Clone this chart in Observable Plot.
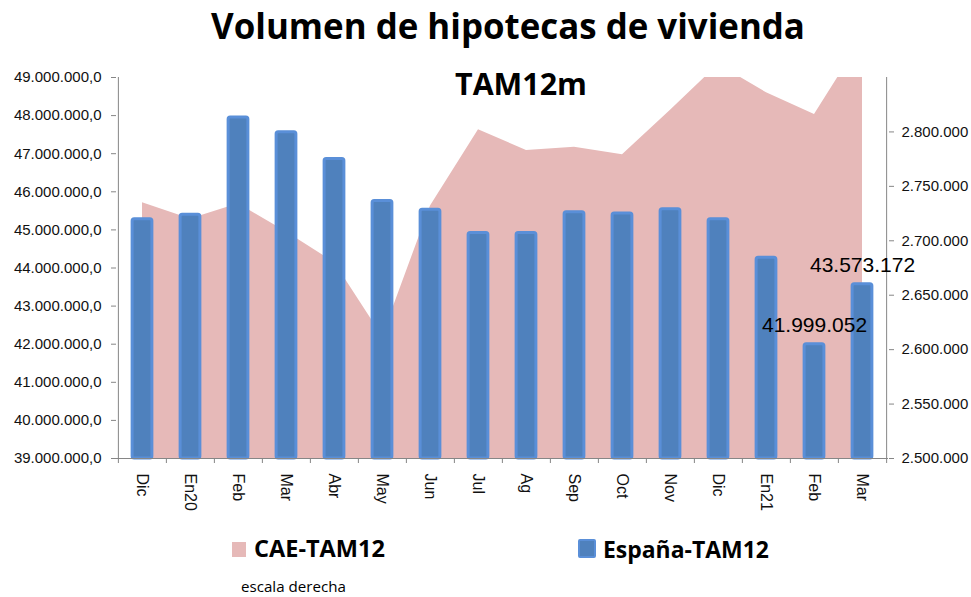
<!DOCTYPE html>
<html><head><meta charset="utf-8">
<script src="https://cdn.jsdelivr.net/npm/d3@7"></script>
<script src="https://cdn.jsdelivr.net/npm/@observablehq/plot@0.6"></script>
<style>
body{margin:0;background:#fff}
#wrap{position:relative;width:971px;height:597px;overflow:hidden;background:#fff}
#chart{position:absolute;left:0;top:0}
.sq{position:absolute;box-sizing:border-box}
</style></head><body>
<div id="wrap"><div id="chart"></div></div>
<script>
// ---- data ----
const keys = ["Dic19","En20","Feb20","Mar20","Abr20","May20","Jun20","Jul20","Ag20","Sep20","Oct20","Nov20","Dic20","En21","Feb21","Mar21"];
const tickLabels = ["Dic","En20","Feb","Mar","Abr","May","Jun","Jul","Ag","Sep","Oct","Nov","Dic","En21","Feb","Mar"];
const espana = [45280000, 45400000, 47950000, 47560000, 46860000, 45760000, 45530000, 44920000, 44920000, 45460000, 45430000, 45540000, 45280000, 44270000, 41999052, 43573172];
const cae = [2735000, 2720000, 2734000, 2708000, 2680000, 2612000, 2732000, 2802000, 2783000, 2786000, 2779000, 2820000, 2862000, 2836000, 2816000, 2886000];
const leftTicks = [39e6, 40e6, 41e6, 42e6, 43e6, 44e6, 45e6, 46e6, 47e6, 48e6, 49e6];
const rightTicks = [2500000, 2550000, 2600000, 2650000, 2700000, 2750000, 2800000];
const labeledIdx = [14, 15];
const seriesNames = ["CAE-TAM12", "España-TAM12"];
const titleText = "Volumen de hipotecas de vivienda";
const subtitleText = "TAM12m";
const noteText = "escala derecha";

// ---- layout ----
const W = 971, H = 540, mL = 116, mR = 83, mT = 77, mB = 82;
const step = (W - mL - mR) / keys.length;
const barW = 20;
const yDom = [39e6, 49e6], rDom = [2.5e6, 2.85e6];
const toLeft = v => yDom[0] + (v - rDom[0]) * (yDom[1] - yDom[0]) / (rDom[1] - rDom[0]);
const fromLeft = v => rDom[0] + (v - yDom[0]) * (rDom[1] - rDom[0]) / (yDom[1] - yDom[0]);
const loc = d3.formatLocale({decimal: ",", thousands: ".", grouping: [3], currency: ["", "€"]});
const fmtL = loc.format(",.1f"), fmtR = loc.format(",.0f");
const labelMap = new Map(keys.map((k, i) => [k, tickLabels[i]]));
const data = keys.map((k, i) => ({key: k, esp: espana[i], cae: cae[i], i}));
const axisGray = "#868686";
const ins = (step - barW) / 2;

const chart = Plot.plot({
  width: W, height: H, marginLeft: mL, marginRight: mR, marginTop: mT, marginBottom: mB,
  style: {fontFamily: "'Liberation Sans', Arial, sans-serif", fontSize: "15px", color: "#111", background: "transparent"},
  x: {type: "band", domain: keys, padding: 0},
  y: {domain: yDom},
  marks: [
    Plot.areaY(data, {x: "key", y1: yDom[0], y2: d => toLeft(d.cae), fill: "#e6b9b8", clip: true}),
    Plot.barY(data, {x: "key", y1: yDom[0], y2: "esp", fill: "#4f81bd", stroke: "#5a8fd8", strokeWidth: 3, insetLeft: ins, insetRight: ins, rx: 2}),
    Plot.ruleY([yDom[0]], {stroke: axisGray}),
    Plot.ruleX([keys[0]], {dx: -step / 2, stroke: axisGray}),
    Plot.ruleX([keys[keys.length - 1]], {dx: step / 2, stroke: axisGray}),
    Plot.ruleX(keys, {y1: yDom[0], y2: yDom[0], dx: -step / 2, insetBottom: -5, stroke: axisGray}),
    Plot.ruleX([keys[keys.length - 1]], {y1: yDom[0], y2: yDom[0], dx: step / 2, insetBottom: -5, stroke: axisGray}),
    Plot.axisY(leftTicks, {anchor: "left", tickSize: 5, tickPadding: 10, tickFormat: fmtL, stroke: axisGray, fill: "#111", label: null}),
    Plot.axisY(rightTicks.map(toLeft), {anchor: "right", tickSize: 5, tickPadding: 8, tickFormat: d => fmtR(Math.round(fromLeft(d) / 1000) * 1000), stroke: axisGray, fill: "#111", label: null}),
    Plot.axisX({tickRotate: 90, tickSize: 0, tickPadding: 15, tickFormat: k => labelMap.get(k), fontSize: 16, fill: "#111", label: null}),
    Plot.text(data.filter(d => labeledIdx.includes(d.i)), {x: "key", y: "esp", text: d => fmtR(d.esp), dy: -19, fontSize: 21, fill: "#000"})
  ]
});
document.getElementById("chart").appendChild(chart);

// ---- texts and legend ----
const wrap = document.getElementById("wrap");
function place(text, {family, weight, width, x, baseline, align}) {
  const el = document.createElement("div");
  el.textContent = text;
  el.style.cssText = `position:absolute;white-space:nowrap;line-height:1;font-family:${family};font-weight:${weight};font-size:100px;color:#000`;
  wrap.appendChild(el);
  const w100 = el.getBoundingClientRect().width;
  const size = 100 * width / w100;
  el.style.fontSize = size + "px";
  const w = el.getBoundingClientRect().width;
  el.style.left = (align === "middle" ? x - w / 2 : x) + "px";
  el.style.top = (baseline - 0.888 * size) + "px";
  return el;
}
const OS = "'Open Sans', 'Noto Sans', sans-serif";
place(titleText, {family: OS, weight: 700, width: 594, x: 508, baseline: 40, align: "middle"});
place(subtitleText, {family: OS, weight: 700, width: 132, x: 521, baseline: 95, align: "middle"});
place(seriesNames[0], {family: OS, weight: 700, width: 131, x: 254, baseline: 557.5, align: "start"});
place(seriesNames[1], {family: OS, weight: 700, width: 166, x: 603, baseline: 558, align: "start"});
place(noteText, {family: OS, weight: 400, width: 105, x: 241, baseline: 592.5, align: "start"});

const sq1 = document.createElement("div");
sq1.className = "sq";
sq1.style.cssText += "left:232px;top:542px;width:14px;height:15px;background:#e6b9b8;";
wrap.appendChild(sq1);
const sq2 = document.createElement("div");
sq2.className = "sq";
sq2.style.cssText += "left:578px;top:539px;width:18px;height:19px;background:#4f81bd;border:2.5px solid #5a8fd8;border-radius:2px;";
wrap.appendChild(sq2);
</script>
</body></html>
